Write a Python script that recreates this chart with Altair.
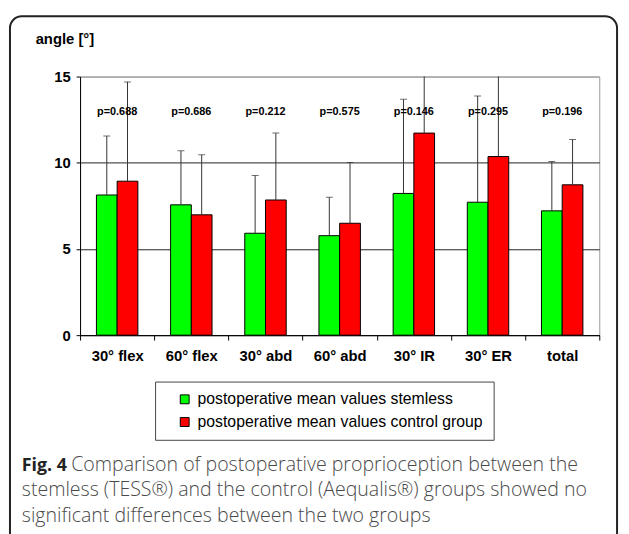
import altair as alt
import pandas as pd

categories = ["30° flex", "60° flex", "30° abd", "60° abd", "30° IR", "30° ER", "total"]
groups = ["postoperative mean values stemless", "postoperative mean values control group"]
stemless_mean = [8.13, 7.56, 5.91, 5.77, 8.22, 7.71, 7.21]
stemless_upper = [11.55, 10.69, 9.26, 8.0, 13.68, 13.87, 10.07]
control_mean = [8.93, 6.98, 7.84, 6.49, 11.72, 10.36, 8.72]
control_upper = [14.69, 10.46, 11.72, 10.02, 16.0, 15.8, 11.35]
p_labels = ["p=0.688", "p=0.686", "p=0.212", "p=0.575", "p=0.146", "p=0.295", "p=0.196"]
p_label_y = 12.95
y_ticks = [0, 5, 10, 15]
colors = ["#00FF00", "#FF0000"]
y_title = "angle [°]"
caption_bold = "Fig. 4"
caption_line1 = "Comparison of postoperative proprioception between the"
caption_line2 = "stemless (TESS®) and the control (Aequalis®) groups showed no"
caption_line3 = "significant differences between the two groups"

rows = []
for i, c in enumerate(categories):
    rows.append({"category": c, "group": groups[0], "mean": stemless_mean[i], "upper": stemless_upper[i]})
    rows.append({"category": c, "group": groups[1], "mean": control_mean[i], "upper": control_upper[i]})
df = pd.DataFrame(rows)
pdf = pd.DataFrame({"category": categories, "label": p_labels, "mean": [p_label_y] * len(categories)})

xenc = alt.X("category:N", sort=categories,
             scale=alt.Scale(paddingInner=0, paddingOuter=0),
             axis=alt.Axis(title=None, labelAngle=0, labelFont="Liberation Sans", labelFontSize=15,
                           labelFontWeight="bold", labelColor="black", tickBand="extent", tickSize=5,
                           tickColor="black", domainColor="black", labelPadding=9, grid=False))
xoff = alt.XOffset("group:N", sort=groups, scale=alt.Scale(paddingInner=0, paddingOuter=0.79))
yscale = alt.Scale(domain=[0, 15], nice=False)
yaxis = alt.Axis(title=None, values=y_ticks, labelFont="Liberation Sans", labelFontSize=15,
                 labelFontWeight="bold", labelColor="black", tickColor="black", tickSize=4,
                 domainColor="black", labelPadding=6, grid=True,
                 gridColor=alt.condition("datum.value == 15", alt.value("#999999"), alt.value("#222222")))

base = alt.Chart(df)

frame = alt.Chart(pd.DataFrame({"a": [0]})).mark_rect(
    fillOpacity=0, stroke="#222222", strokeWidth=2, cornerRadius=12
).encode(x=alt.value(-71), x2=alt.value(544), y=alt.value(-61), y2=alt.value(480))

bars = base.mark_bar(stroke="black", strokeWidth=1).encode(
    x=xenc, xOffset=xoff,
    y=alt.Y("mean:Q", scale=yscale, axis=yaxis),
    color=alt.Color("group:N", sort=groups, scale=alt.Scale(domain=groups, range=colors),
                    legend=alt.Legend(orient="none", legendX=76, legendY=309, title=None,
                                      direction="vertical", symbolType="square", symbolSize=81,
                                      symbolStrokeColor="black", symbolStrokeWidth=1,
                                      labelFont="Liberation Sans", labelFontSize=16, labelColor="black",
                                      labelLimit=400, padding=10, strokeColor="#444444",
                                      fillColor="white", rowPadding=7, symbolOffset=12, labelOffset=5))
)

rules = base.mark_rule(color="#333333", strokeWidth=1, clip=True).encode(
    x=xenc, xOffset=xoff, y=alt.Y("mean:Q", scale=yscale), y2="upper:Q")

caps = base.mark_tick(color="#333333", size=7, thickness=1, clip=True).encode(
    x=xenc, xOffset=xoff, y=alt.Y("upper:Q", scale=yscale))

ptext = alt.Chart(pdf).mark_text(font="Liberation Sans", fontSize=11, fontWeight="bold",
                                 color="black", baseline="middle").encode(
    x=xenc, y=alt.Y("mean:Q", scale=yscale), text="label:N")


def text_layer(t, x, y, **kw):
    return alt.Chart(pd.DataFrame({"t": [t]})).mark_text(
        align="left", baseline="alphabetic", **kw).encode(
        x=alt.value(x), y=alt.value(y), text="t:N")


ytitle = text_layer(y_title, -45, -33, font="Liberation Sans", fontSize=15,
                    fontWeight="bold", color="black")
cap_b = text_layer(caption_bold, -59, 400, font="Open Sans", fontSize=18,
                   fontWeight="bold", color="#222222")
cap_1 = text_layer(caption_line1, -9, 400, font="Open Sans", fontSize=19.8,
                   fontWeight=300, color="#4a4a4a")
cap_2 = text_layer(caption_line2, -59, 425, font="Open Sans", fontSize=19.8,
                   fontWeight=300, color="#4a4a4a")
cap_3 = text_layer(caption_line3, -59, 451, font="Open Sans", fontSize=19.8,
                   fontWeight=300, color="#4a4a4a")

chart = alt.layer(frame, bars, rules, caps, ptext, ytitle, cap_b, cap_1, cap_2, cap_3).properties(
    width=526, height=262,
    autosize=alt.AutoSizeParams(type="none"),
    padding={"left": 73, "top": 66, "right": 22, "bottom": 198},
).configure_view(stroke="#999999", strokeWidth=1)

chart.save("out.html", embed_options={"renderer": "svg", "actions": False})
